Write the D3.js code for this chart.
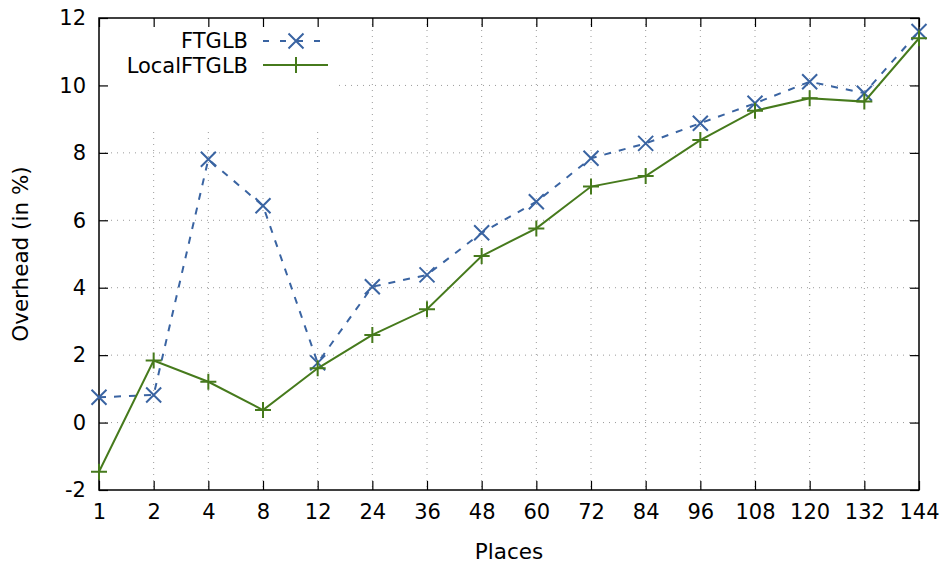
<!DOCTYPE html>
<html>
<head>
<meta charset="utf-8">
<script src="https://cdn.jsdelivr.net/npm/d3@7/dist/d3.min.js"></script>
<style>
  body { margin: 0; background: #fff; }
  text { font-family: "DejaVu Sans", sans-serif; fill: #000; }
</style>
</head>
<body>
<div id="chart"></div>
<script>
// data
const places = ["1", "2", "4", "8", "12", "24", "36", "48", "60", "72", "84", "96", "108", "120", "132", "144"];
const ftglb = [0.75, 0.82, 7.81, 6.43, 1.77, 4.03, 4.38, 5.63, 6.55, 7.84, 8.28, 8.88, 9.47, 10.11, 9.77, 11.6];
const localFtglb = [-1.46, 1.84, 1.21, 0.37, 1.61, 2.60, 3.36, 4.94, 5.76, 7.0, 7.31, 8.38, 9.25, 9.62, 9.52, 11.4];
const yTicks = [-2, 0, 2, 4, 6, 8, 10, 12];

const width = 944, height = 570;
const plotLeft = 99, plotRight = 919, plotTop = 18, plotBottom = 490;
const blue = "#3a64a2", green = "#467a1c";

let svg = d3.select("#chart").append("svg")
    .attr("width", width)
    .attr("height", height);

let x = d3.scalePoint().domain(places).range([plotLeft, plotRight]);
let y = d3.scaleLinear().domain([-2, 12]).range([plotBottom, plotTop]);

// grid
let grid = svg.append("g").attr("class", "grid")
    .attr("stroke", "#9a9a9a").attr("stroke-width", 1)
    .attr("stroke-dasharray", "1,5");
grid.selectAll("line.v").data(places.slice(1, -1)).enter().append("line")
    .attr("x1", d => x(d)).attr("x2", d => x(d))
    .attr("y1", plotTop).attr("y2", plotBottom);
grid.selectAll("line.h").data(yTicks.slice(1, -1)).enter().append("line")
    .attr("x1", plotLeft).attr("x2", plotRight)
    .attr("y1", d => y(d)).attr("y2", d => y(d));

// key box hides the grid behind it
svg.append("rect")
    .attr("x", plotLeft + 1).attr("y", plotTop + 1)
    .attr("width", 238).attr("height", 108)
    .attr("fill", "#fff");

// axes with inward ticks on all sides
let fmt = d => String(d);
let xAxis = svg.append("g")
    .attr("transform", "translate(0," + plotBottom + ")")
    .call(d3.axisBottom(x).tickSizeInner(-9).tickSizeOuter(0).tickPadding(14));
let xTop = svg.append("g")
    .attr("transform", "translate(0," + plotTop + ")")
    .call(d3.axisTop(x).tickSizeInner(-9).tickSizeOuter(0).tickFormat(""));
let yAxis = svg.append("g")
    .attr("transform", "translate(" + plotLeft + ",0)")
    .call(d3.axisLeft(y).tickValues(yTicks).tickFormat(fmt).tickSizeInner(-9).tickSizeOuter(0).tickPadding(13));
let yRight = svg.append("g")
    .attr("transform", "translate(" + plotRight + ",0)")
    .call(d3.axisRight(y).tickValues(yTicks).tickSizeInner(-9).tickSizeOuter(0).tickFormat(""));

[xAxis, xTop, yAxis, yRight].forEach(g => {
    g.select(".domain").remove();
    g.selectAll(".tick line").attr("stroke", "#000").attr("stroke-width", 1.2);
    g.selectAll("text").style("font-size", "21px").attr("font-family", null);
});

// border
svg.append("rect")
    .attr("x", plotLeft).attr("y", plotTop)
    .attr("width", plotRight - plotLeft).attr("height", plotBottom - plotTop)
    .attr("fill", "none").attr("stroke", "#000").attr("stroke-width", 1.5);

// axis titles
svg.append("text")
    .attr("x", (plotLeft + plotRight) / 2).attr("y", 559)
    .attr("text-anchor", "middle").style("font-size", "21.5px")
    .text("Places");
svg.append("text")
    .attr("transform", "translate(28," + ((plotTop + plotBottom) / 2) + ") rotate(-90)")
    .attr("text-anchor", "middle").style("font-size", "21.5px")
    .text("Overhead (in %)");

// series
let line = d3.line().x(d => x(d[0])).y(d => y(d[1]));
let s1 = places.map((p, i) => [p, ftglb[i]]);
let s2 = places.map((p, i) => [p, localFtglb[i]]);

function cross(g, cx, cy, color) {
    let r = 7.5;
    g.append("path")
        .attr("d", "M" + (cx - r) + "," + (cy - r) + "L" + (cx + r) + "," + (cy + r) +
                   "M" + (cx - r) + "," + (cy + r) + "L" + (cx + r) + "," + (cy - r))
        .attr("stroke", color).attr("stroke-width", 2).attr("fill", "none");
}
function plus(g, cx, cy, color) {
    let r = 8;
    g.append("path")
        .attr("d", "M" + (cx - r) + "," + cy + "L" + (cx + r) + "," + cy +
                   "M" + cx + "," + (cy - r) + "L" + cx + "," + (cy + r))
        .attr("stroke", color).attr("stroke-width", 2).attr("fill", "none");
}

let g = svg.append("g");
g.append("path")
    .attr("d", line(s1))
    .attr("fill", "none").attr("stroke", blue).attr("stroke-width", 2)
    .attr("stroke-dasharray", "7,8");
s1.forEach(d => cross(g, x(d[0]), y(d[1]), blue));

g.append("path")
    .attr("d", line(s2))
    .attr("fill", "none").attr("stroke", green).attr("stroke-width", 2);
s2.forEach(d => plus(g, x(d[0]), y(d[1]), green));

// legend
let key = svg.append("g");
key.append("text").attr("x", 248).attr("y", 48)
    .attr("text-anchor", "end").style("font-size", "21px").text("FTGLB");
key.append("text").attr("x", 248).attr("y", 73)
    .attr("text-anchor", "end").style("font-size", "21px").text("LocalFTGLB");
key.append("line").attr("x1", 263).attr("x2", 328).attr("y1", 41).attr("y2", 41)
    .attr("stroke", blue).attr("stroke-width", 2).attr("stroke-dasharray", "6,11");
cross(key, 296, 41, blue);
key.append("line").attr("x1", 263).attr("x2", 328).attr("y1", 65).attr("y2", 65)
    .attr("stroke", green).attr("stroke-width", 2);
plus(key, 296, 65, green);
</script>
</body>
</html>
